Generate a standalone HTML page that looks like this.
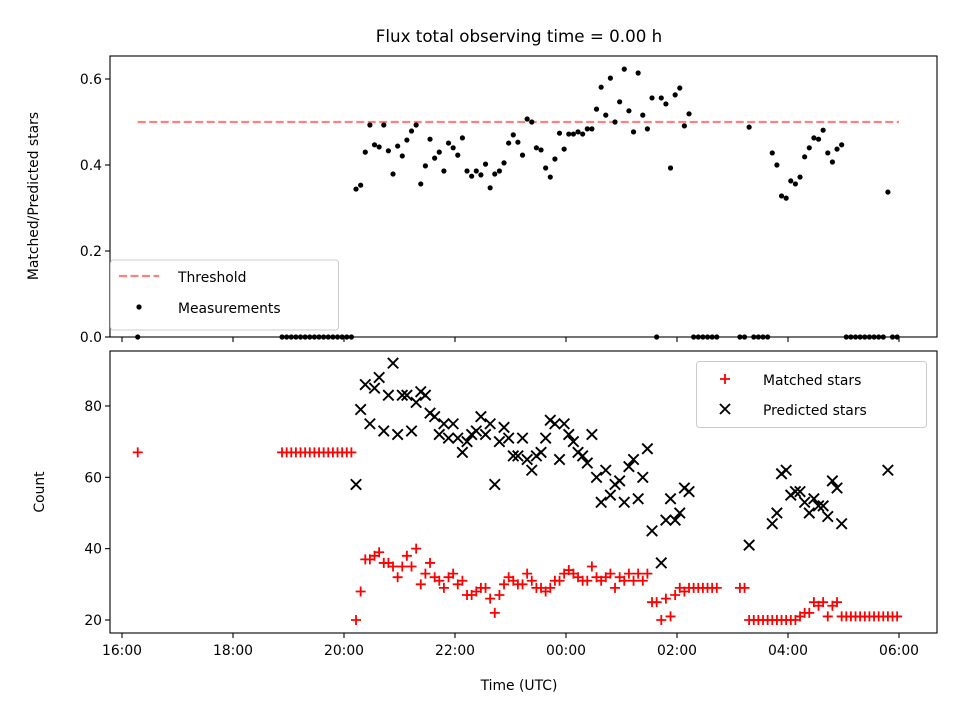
<!DOCTYPE html>
<html><head><meta charset="utf-8"><style>
html,body{margin:0;padding:0;background:#fff;}
svg{display:block;font-family:"DejaVu Sans","Liberation Sans",sans-serif;}
</style></head><body>
<svg id="fig" width="960" height="720" viewBox="0 0 960 720"></svg>
<script>
const times = [17,173,178,183,188,193,198,203,208,213,218,223,228,233,238,243,248,253,258,263,268,273,278,283,288,293,298,303,308,313,318,323,328,333,338,343,348,353,358,363,368,373,378,383,388,393,398,403,408,413,418,423,428,433,438,443,448,453,458,463,468,473,478,483,488,493,498,503,508,513,518,523,528,533,538,543,548,553,558,563,568,573,578,583,588,593,598,603,608,613,618,623,628,633,638,643,668,673,678,683,688,693,698,703,708,713,718,723,728,733,738,743,748,753,758,763,768,773,778,783,788,793,798,803,808,813,818,823,828,833,838];
const ratio = [0,0,0,0,0,0,0,0,0,0,0,0,0,0,0,0,0,
.344,.353,.430,.493,.447,.442,.493,.433,.379,.444,.421,.458,.479,.493,.356,.398,.460,.416,.430,.386,.451,.440,.423,.463,.386,.374,.386,.377,.402,.347,.379,.386,.405,.451,.470,.453,.423,.507,.500,.440,.435,.393,.372,.414,.474,.437,.472,.472,.477,.472,.484,.484,.530,.581,.516,.602,.500,.547,.623,.526,.477,.614,.516,.484,.556,0,.556,.542,.393,.563,.579,.491,.519,
0,0,0,0,0,0,
0,0,.488,0,0,0,0,
.428,.400,.328,.323,.363,.356,.372,.419,.440,.463,.460,.481,.428,.407,.437,.447,
0,0,0,0,0,0,0,0,0,.337,0,0];
const matched = [67,67,67,67,67,67,67,67,67,67,67,67,67,67,67,67,67,
20,28,37,37,38,39,36,36,35,32,35,38,35,40,30,33,36,32,31,29,32,33,30,31,27,27,28,29,29,26,22,27,30,32,31,30,30,33,31,29,29,28,29,31,31,33,34,33,32,31,31,35,32,31,32,33,29,32,31,33,31,33,31,33,25,25,20,26,21,27,29,28,29,
29,29,29,29,29,29,
29,29,20,20,20,20,20,
20,20,20,20,20,20,21,22,22,25,24,25,21,24,25,21,
21,21,21,21,21,21,21,21,21,21,21,21];
const predicted = [null,null,null,null,null,null,null,null,null,null,null,null,null,null,null,null,null,
58,79,86,75,85,88,73,83,92,72,83,83,73,81,84,83,78,77,72,75,71,75,71,67,70,72,73,77,72,75,58,70,74,71,66,66,71,65,62,66,67,71,76,75,65,75,72,70,67,66,64,72,60,53,62,55,58,59,53,63,65,54,60,68,45,null,36,48,54,48,50,57,56,
null,null,null,null,null,null,
null,null,41,null,null,null,null,
47,50,61,62,55,56,56,53,50,54,52,52,49,59,57,47,
null,null,null,null,null,null,null,null,null,62,null,null];
const xTicks = [0,120,240,360,480,600,720,840];
const xTickLabels = ["16:00","18:00","20:00","22:00","00:00","02:00","04:00","06:00"];
const topTicks = [0,0.2,0.4,0.6];
const botTicks = [20,40,60,80];
const threshold = 0.5;
const thrRange = [17,840];

const NS="http://www.w3.org/2000/svg";
const svg=document.getElementById('fig');
function mk(tag,attrs,parent){const e=document.createElementNS(NS,tag);for(const k in attrs)e.setAttribute(k,attrs[k]);(parent||svg).appendChild(e);return e;}
const L=110,R=937,T1=56,B1=337,T2=351,B2=633;
const FS='13.9';
const xs=t=>122+t*55.5/60;
const y1=v=>337-v*430;
const y2=v=>620-(v-20)*3.567;

let e=mk('text',{x:519,y:42,'text-anchor':'middle','font-size':'16.7'});e.textContent='Flux total observing time = 0.00 h';



const gTop=mk('g',{});


e=mk('line',{x1:xs(thrRange[0]),x2:xs(thrRange[1]),y1:y1(threshold),y2:y1(threshold),stroke:'#ff8080','stroke-width':2.2,'stroke-dasharray':'8 3.5'},gTop);


for(let i=0;i<times.length;i++){
  const c=mk('circle',{cx:xs(times[i]),cy:y1(ratio[i]),r:2.6,fill:'#000'},gTop);
  
  
}
const gBot=mk('g',{});


for(let i=0;i<times.length;i++){
  const x=xs(times[i]),y=y2(matched[i]);
  const p=mk('path',{d:`M${x-5},${y}H${x+5}M${x},${y-5}V${y+5}`,stroke:'#ff0000','stroke-width':1.8,fill:'none'},gBot);
  
  
}
for(let i=0;i<times.length;i++){
  if(predicted[i]===null)continue;
  const x=xs(times[i]),y=y2(predicted[i]),d=5.2;
  const p=mk('path',{d:`M${x-d},${y-d}L${x+d},${y+d}M${x-d},${y+d}L${x+d},${y-d}`,stroke:'#000','stroke-width':1.9,fill:'none'},gBot);
  
  
}
e=mk('rect',{x:L,y:T1,width:R-L,height:B1-T1,fill:'none',stroke:'#000','stroke-width':1.1});


e=mk('rect',{x:L,y:T2,width:R-L,height:B2-T2,fill:'none',stroke:'#000','stroke-width':1.1});


xTicks.forEach((t,i)=>{
  const x=xs(t);
  mk('line',{x1:x,x2:x,y1:B1,y2:B1+5,stroke:'#000','stroke-width':1.1});
  mk('line',{x1:x,x2:x,y1:B2,y2:B2+5,stroke:'#000','stroke-width':1.1});
  const tx=mk('text',{x:x,y:B2+22,'text-anchor':'middle','font-size':FS});tx.textContent=xTickLabels[i];
  
  
});
topTicks.forEach(v=>{
  const y=y1(v);
  mk('line',{x1:L-5,x2:L,y1:y,y2:y,stroke:'#000','stroke-width':1.1});
  const tx=mk('text',{x:L-8,y:y+5,'text-anchor':'end','font-size':FS});tx.textContent=v.toFixed(1);
  
  
});
botTicks.forEach(v=>{
  const y=y2(v);
  mk('line',{x1:L-5,x2:L,y1:y,y2:y,stroke:'#000','stroke-width':1.1});
  const tx=mk('text',{x:L-8,y:y+5,'text-anchor':'end','font-size':FS});tx.textContent=v;
  
  
});
e=mk('text',{x:0,y:0,'text-anchor':'middle','font-size':FS,transform:'translate(38,196) rotate(-90)'});e.textContent='Matched/Predicted stars';


e=mk('text',{x:0,y:0,'text-anchor':'middle','font-size':FS,transform:'translate(44,492) rotate(-90)'});e.textContent='Count';


e=mk('text',{x:519,y:690,'text-anchor':'middle','font-size':FS});e.textContent='Time (UTC)';



const lg1=mk('g',{});


mk('rect',{x:110.5,y:260,width:228,height:70,rx:3,fill:'#fff','fill-opacity':0.8,stroke:'#ccc','stroke-width':1},lg1);
mk('line',{x1:119,x2:159,y1:276,y2:276,stroke:'#ff8080','stroke-width':2.2,'stroke-dasharray':'8 3.5'},lg1);
e=mk('text',{x:178,y:282,'font-size':FS},lg1);e.textContent='Threshold';


mk('circle',{cx:139,cy:307,r:2.6,fill:'#000'},lg1);
e=mk('text',{x:178,y:313,'font-size':FS},lg1);e.textContent='Measurements';



const lg2=mk('g',{});


mk('rect',{x:696.5,y:361.5,width:230,height:66,rx:3,fill:'#fff','fill-opacity':0.8,stroke:'#ccc','stroke-width':1},lg2);
mk('path',{d:'M720,379H730M725,374V384',stroke:'#ff0000','stroke-width':1.8,fill:'none'},lg2);
e=mk('text',{x:763,y:385,'font-size':FS},lg2);e.textContent='Matched stars';


mk('path',{d:'M720,404L730,414M720,414L730,404',stroke:'#000','stroke-width':1.9,fill:'none'},lg2);
e=mk('text',{x:763,y:415,'font-size':FS},lg2);e.textContent='Predicted stars';


</script>
</body></html>
